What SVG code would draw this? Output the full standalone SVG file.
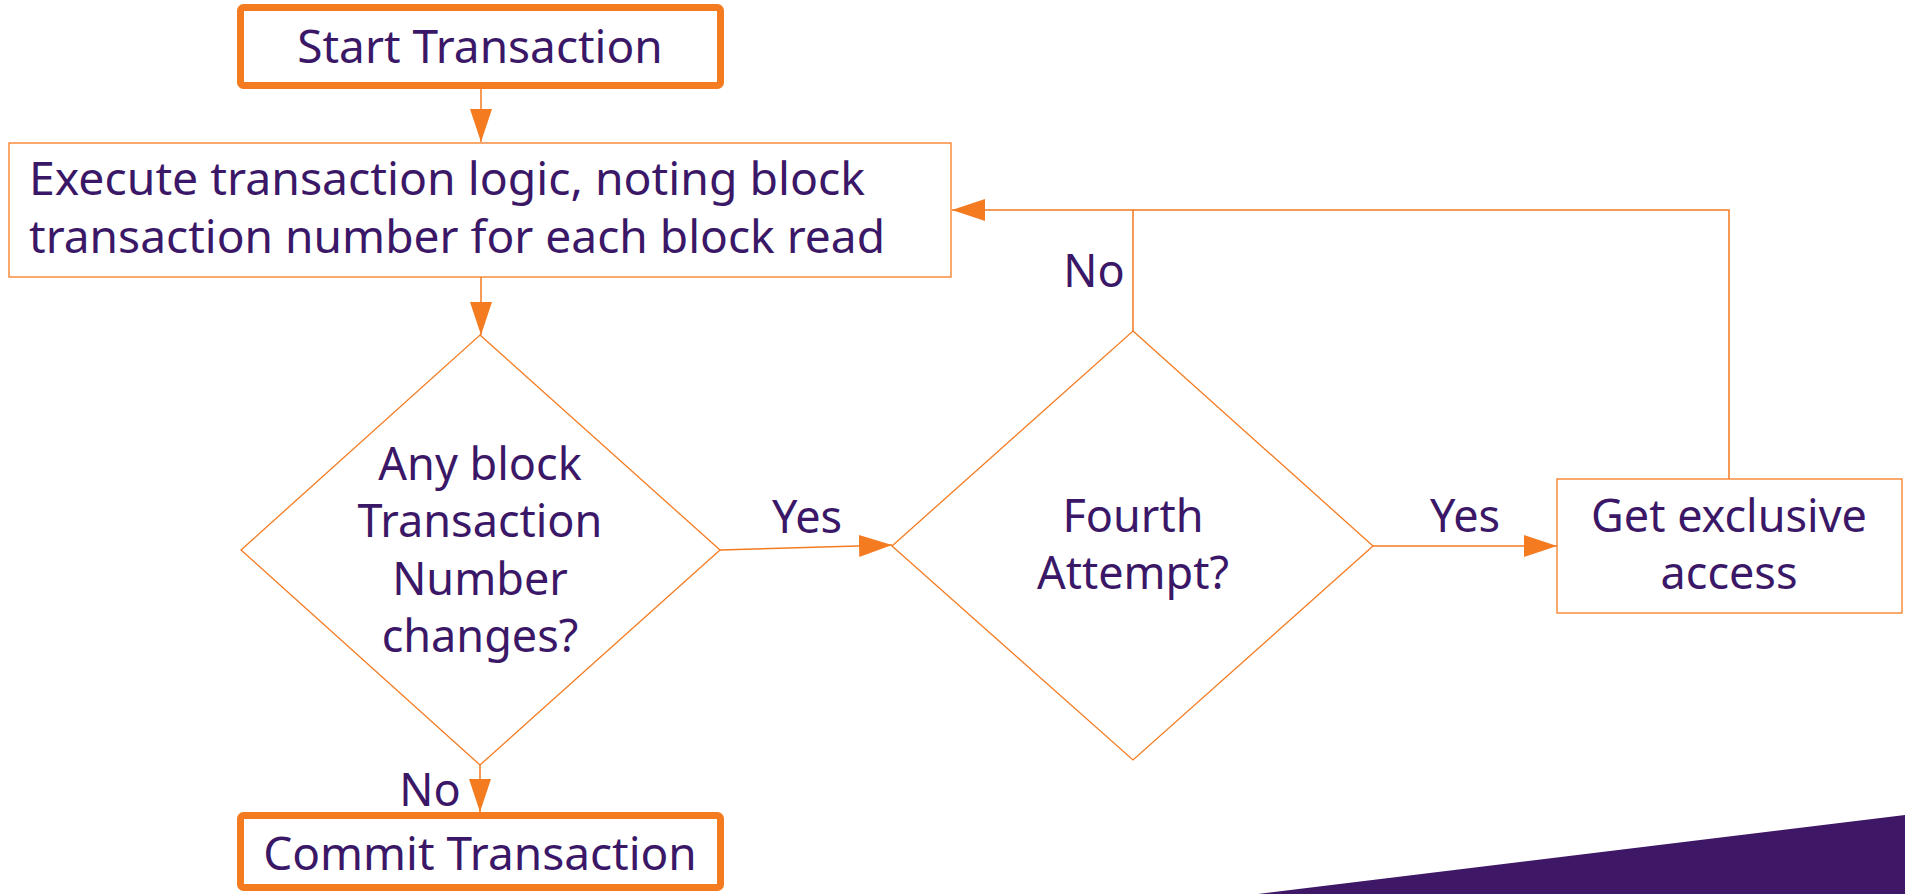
<svg xmlns="http://www.w3.org/2000/svg" width="1905" height="894" viewBox="0 0 1905 894">
<defs>
<marker id="arr" markerUnits="userSpaceOnUse" markerWidth="34" markerHeight="22" refX="33" refY="11" orient="auto">
<path d="M0,0 L33,11 L0,22 z" fill="#F47B20"/>
</marker>
<style>
.t{font-family:"Noto Sans","Open Sans","Liberation Sans",sans-serif;fill:#3B1867;font-size:45px}
.c{text-anchor:middle}
.thick{fill:#fff;stroke:#F47B20;stroke-width:7}
.thin{fill:#fff;stroke:#F47B20;stroke-width:1.3}
.conn{fill:none;stroke:#F47B20;stroke-width:1.5}
</style>
</defs>
<rect width="1905" height="894" fill="#fff"/>
<polygon points="1258,894 1905,815 1905,894" fill="#3E1766"/>
<g id="connectors">
<path class="conn" d="M481,89 V142" marker-end="url(#arr)"/>
<path class="conn" d="M481,277 V335" marker-end="url(#arr)"/>
<path class="conn" d="M720,550 L892,545" marker-end="url(#arr)"/>
<path class="conn" d="M1373,546 H1557" marker-end="url(#arr)"/>
<path class="conn" d="M1133,331 V210 H952" marker-end="url(#arr)"/>
<path class="conn" d="M1729,479 V210 H1133"/>
<path class="conn" d="M480,765 V812" marker-end="url(#arr)"/>
<text class="t c" x="807" y="533">Yes</text>
<text class="t c" x="1465" y="532">Yes</text>
<text class="t c" x="1094" y="287">No</text>
<text class="t c" x="430" y="806">No</text>
</g>
<g id="start">
<rect class="thick" x="240.5" y="7.5" width="480" height="78" rx="3"/>
<text class="t c" x="480" y="63" style="font-size:46px">Start Transaction</text>
</g>
<g id="execute">
<rect class="thin" x="9" y="143" width="942" height="134"/>
<text class="t" x="29" y="195" style="font-size:46px" textLength="836" lengthAdjust="spacingAndGlyphs">Execute transaction logic, noting block</text>
<text class="t" x="29" y="253" style="font-size:46px" textLength="856" lengthAdjust="spacingAndGlyphs">transaction number for each block read</text>
</g>
<g id="anychange">
<polygon class="thin" points="480,335 720,550 480,765 241,550"/>
<text class="t c" x="480" y="480">Any block</text>
<text class="t c" x="480" y="537">Transaction</text>
<text class="t c" x="480" y="595">Number</text>
<text class="t c" x="480" y="652">changes?</text>
</g>
<g id="fourth">
<polygon class="thin" points="1133,331 1373,546 1133,760 892,546"/>
<text class="t c" x="1133" y="532">Fourth</text>
<text class="t c" x="1133" y="589">Attempt?</text>
</g>
<g id="exclusive">
<rect class="thin" x="1557" y="479" width="345" height="134"/>
<text class="t c" x="1729" y="532">Get exclusive</text>
<text class="t c" x="1729" y="589">access</text>
</g>
<g id="commit">
<rect class="thick" x="240.5" y="815.5" width="480" height="72" rx="3"/>
<text class="t c" x="480" y="870" style="font-size:46px">Commit Transaction</text>
</g>
</svg>
